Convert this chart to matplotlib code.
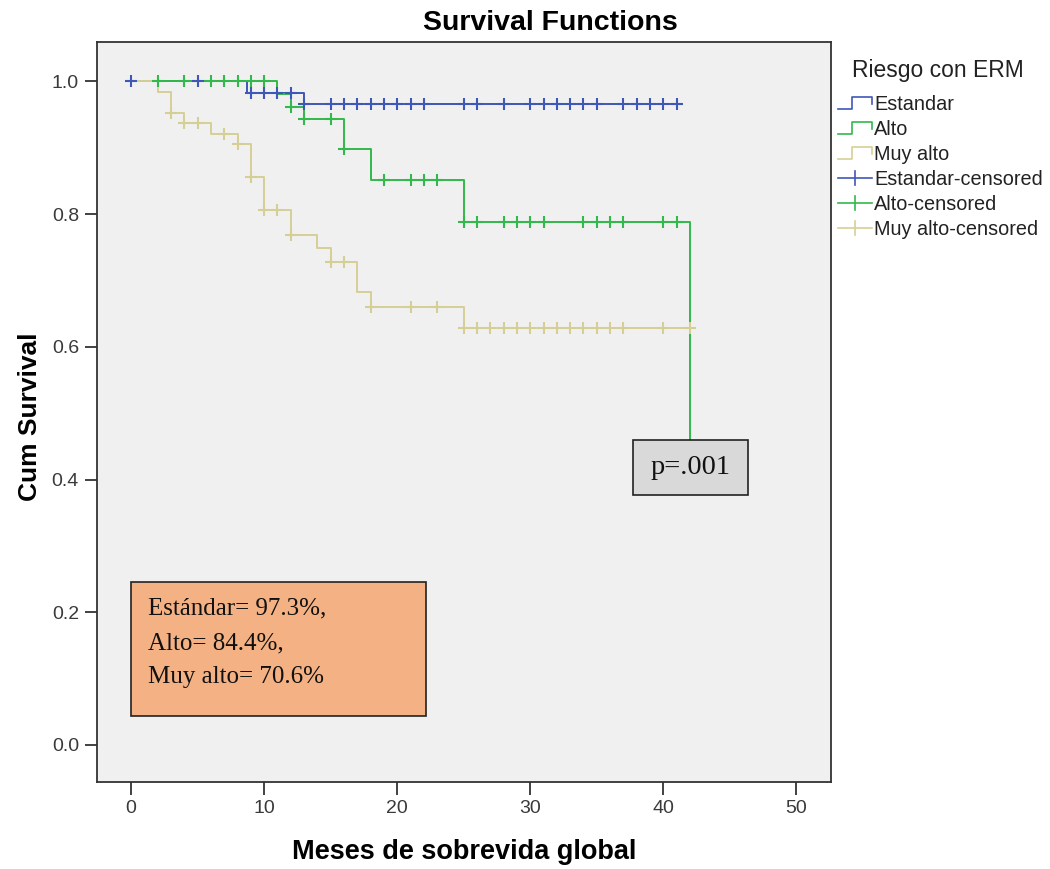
import numpy as np
import matplotlib
matplotlib.use("Agg")
import matplotlib.pyplot as plt
from matplotlib.legend_handler import HandlerBase
from matplotlib.lines import Line2D
from matplotlib.patches import Rectangle

# ---------------- data ----------------
groups = ["Estandar", "Alto", "Muy alto"]

est_times = [0, 8.7, 13, 41]
est_surv = [1.0, 0.983, 0.966, 0.966]
est_cens = [0, 5, 9, 10, 11, 12, 13, 15, 16, 17, 18, 19, 20, 21, 22, 25, 26, 28,
            30, 31, 32, 33, 34, 35, 37, 38, 39, 40, 41]

alto_times = [0, 11, 12, 13, 16, 18, 25, 42]
alto_surv = [1.0, 0.981, 0.962, 0.943, 0.898, 0.852, 0.788, 0.394]
alto_cens = [2, 4, 6, 7, 8, 9, 10, 12, 13, 15, 16, 19, 21, 22, 23, 25, 26, 28,
             29, 30, 31, 34, 35, 36, 37, 40, 41]

muy_times = [0, 2, 3, 4, 6, 8, 9, 10, 12, 14, 15, 17, 18, 25, 42]
muy_surv = [1.0, 0.984, 0.952, 0.937, 0.921, 0.906, 0.856, 0.806, 0.769, 0.749,
            0.728, 0.683, 0.660, 0.628, 0.628]
muy_cens = [3, 4, 5, 7, 8, 9, 10, 11, 12, 15, 16, 18, 21, 23, 25, 26, 27, 28, 29,
            30, 31, 32, 33, 34, 35, 36, 37, 40, 42]

x_ticks = [0, 10, 20, 30, 40, 50]
y_ticks = [0.0, 0.2, 0.4, 0.6, 0.8, 1.0]

summary_text = "Estándar= 97.3%,\nAlto= 84.4%,\nMuy alto= 70.6%"
p_text = "p=.001"

colors = {"Estandar": "#3f57b6", "Alto": "#33b84b", "Muy alto": "#d6cf95"}

# ---------------- figure ----------------
W, H = 1050, 869
fig = plt.figure(figsize=(W / 100, H / 100), dpi=100)
fig.patch.set_facecolor("white")

L, R, T, B = 97, 831, 42, 782
ax = fig.add_axes([L / W, 1 - B / H, (R - L) / W, (B - T) / H])
ax.set_facecolor("#f0f0f0")
ax.set_xlim(-2.56, 52.6)
ax.set_ylim(-0.0558, 1.0595)

series = [
    ("Estandar", est_times, est_surv, est_cens),
    ("Alto", alto_times, alto_surv, alto_cens),
    ("Muy alto", muy_times, muy_surv, muy_cens),
]

lw = 1.4
for i, (name, t, s, c) in enumerate(series):
    ax.step(t, s, where="post", color=colors[name], lw=lw, zorder=2 + i)

for i, (name, t, s, c) in enumerate(series):
    t_arr = np.asarray(t)
    s_arr = np.asarray(s)
    idx = np.searchsorted(t_arr, np.asarray(c), side="right") - 1
    ax.plot(c, s_arr[idx], linestyle="none", marker="+", markersize=9,
            markeredgewidth=1.5, color=colors[name], zorder=6 + i)

ax.set_xticks(x_ticks)
ax.set_xticklabels([str(v) for v in x_ticks])
ax.set_yticks(y_ticks)
ax.set_yticklabels([f"{v:.1f}" for v in y_ticks])
ax.tick_params(direction="out", length=9, width=1.3, color="#333333",
               labelsize=14, labelcolor="#3a3a3a", pad=4)
for lab in ax.get_xticklabels() + ax.get_yticklabels():
    lab.set_family("Liberation Sans")
for sp in ax.spines.values():
    sp.set_color("#333333")
    sp.set_linewidth(1.3)

# annotation boxes
ax.add_patch(Rectangle((0.0, 0.0437), 22.2, 0.202, facecolor="#f4b183",
                       edgecolor="#222222", lw=1.2, zorder=12))
ax.text(1.25, 0.1537, summary_text, family="Liberation Serif", fontsize=18,
        va="center", ha="left", linespacing=1.72, color="#111111", zorder=13)

ax.add_patch(Rectangle((37.7, 0.377), 8.7, 0.083, facecolor="#d9d9d9",
                       edgecolor="#222222", lw=1.2, zorder=12))
ax.text(42.05, 0.4185, p_text, family="Liberation Serif", fontsize=20.5,
        va="center", ha="center", color="#111111", zorder=13)

# titles
fig.text(550 / W, 1 - 23 / H, "Survival Functions", family="Liberation Sans",
         fontweight="bold", fontsize=20.5, ha="center", va="center")
fig.text(464 / W, 1 - 852 / H, "Meses de sobrevida global", family="Liberation Sans",
         fontweight="bold", fontsize=19.5, ha="center", va="center")
fig.text(30 / W, 1 - 417 / H, "Cum Survival", family="Liberation Sans",
         fontweight="bold", fontsize=19, ha="center", va="center", rotation=90)
fig.text(852 / W, 1 - 71 / H, "Riesgo con ERM", family="Liberation Sans",
         fontsize=16.5, ha="left", va="center", color="#222222")


# legend
class StepHandler(HandlerBase):
    def create_artists(self, legend, orig_handle, xdescent, ydescent, width,
                       height, fontsize, trans):
        x0 = -xdescent
        y0 = -ydescent
        xs = [x0, x0 + 0.4 * width, x0 + 0.4 * width, x0 + width, x0 + width]
        ys = [y0 + 0.1 * height, y0 + 0.1 * height, y0 + 0.9 * height,
              y0 + 0.9 * height, y0 + 0.45 * height]
        ln = Line2D(xs, ys, color=orig_handle.get_color(), lw=1.2,
                    transform=trans)
        return [ln]


class CensHandler(HandlerBase):
    def create_artists(self, legend, orig_handle, xdescent, ydescent, width,
                       height, fontsize, trans):
        x0 = -xdescent
        y0 = -ydescent
        h = Line2D([x0, x0 + width], [y0 + 0.5 * height] * 2,
                   color=orig_handle.get_color(), lw=1.2, transform=trans)
        v = Line2D([x0 + 0.5 * width] * 2, [y0, y0 + height],
                   color=orig_handle.get_color(), lw=1.2, transform=trans)
        return [h, v]


step_handles = [Line2D([], [], color=colors[g]) for g in groups]
cens_handles = [Line2D([], [], color=colors[g], marker="+") for g in groups]
handles = step_handles + cens_handles
labels = groups + [g + "-censored" for g in groups]
hmap = {h: StepHandler() for h in step_handles}
hmap.update({h: CensHandler() for h in cens_handles})

leg = fig.legend(handles, labels, handler_map=hmap, loc="upper left",
                 bbox_to_anchor=(838 / W, 1 - 95 / H), frameon=False,
                 prop={"family": "Liberation Sans", "size": 14.3},
                 handlelength=1.7, handletextpad=0.12, labelspacing=0.3,
                 borderaxespad=0, borderpad=0)
for txt in leg.get_texts():
    txt.set_color("#222222")

fig.savefig("out.png", dpi=100)
